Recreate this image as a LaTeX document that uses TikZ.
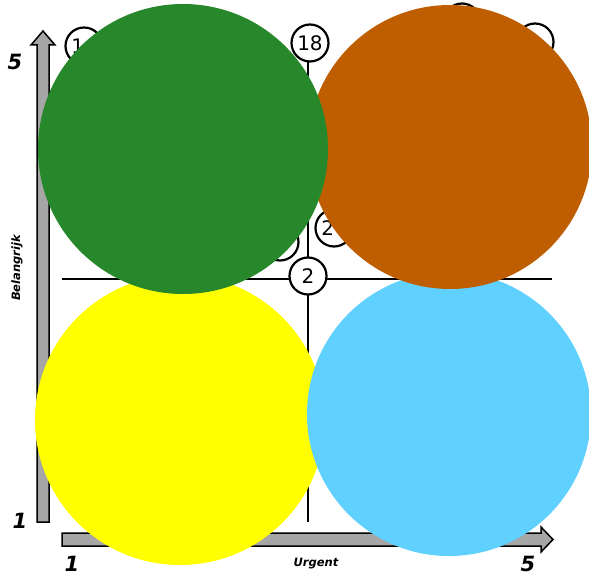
\documentclass[tikz,border=0pt]{standalone}
\usepackage{fontspec}
\setmainfont{DejaVu Sans}
\begin{document}
\begin{tikzpicture}[x=1pt,y=-1pt,
  axisarrow/.style={draw=black,line width=1.5pt,fill={rgb,255:red,166;green,166;blue,166},line join=miter},
  gridline/.style={draw=black,line width=1.7pt},
  axnum/.style={font=\fontsize{21}{21}\selectfont\bfseries\itshape,inner sep=0pt},
  axlabel/.style={font=\fontsize{11.5}{11.5}\selectfont\bfseries\itshape,inner sep=0pt},
  tag/.style={circle,draw=black,line width=2.2pt,fill=white,minimum size=37pt,inner sep=0pt,font=\fontsize{20}{20}\selectfont},
  big/.style={circle,inner sep=0pt,draw=none}]
\definecolor{cgreen}{RGB}{39,136,43}
\definecolor{corange}{RGB}{191,94,0}
\definecolor{cyellow}{RGB}{255,255,0}
\definecolor{cblue}{RGB}{96,208,255}
\useasboundingbox (0,0) rectangle (589,577);
% axes
\draw[axisarrow] (37,522) -- (37,45) -- (31,45) -- (43,31) -- (55,45) -- (49,45) -- (49,522) -- cycle;
\draw[axisarrow] (62,533) -- (541,533) -- (541,527) -- (553,539.5) -- (541,552) -- (541,546) -- (62,546) -- cycle;
% axis labels
\node[axnum] (y5) at (15,62) {5};
\node[axnum] (y1) at (20,521) {1};
\node[axnum] (x1) at (72,564) {1};
\node[axnum] (x5) at (528,564) {5};
\node[axlabel] (xl) at (316,564) {Urgent};
\node[axlabel,rotate=90] (yl) at (17,268) {Belangrijk};
% grid
\coordinate (hl) at (62,279);
\coordinate (hr) at (552,279);
\coordinate (vb) at (308,522);
\coordinate (vt) at (308,45);
\draw[gridline] (hl) -- (hr);
\draw[gridline] (vt) -- (vb);
% small tags
\node[tag] (t1) at (84,46) {1\phantom{0}};
\node[tag] (t18) at (310,43) {18};
\node[tag] (ttop) at (462,22) {};
\node[tag] (ttr) at (535,42) {};
\node[tag] (tmidl) at (280,242) {};
\node[tag] (tmidr) at (334,228) {2\phantom{0}};
\node[tag] (t2) at (308,276) {2};
% big circles
\node[big,fill=cyellow,minimum size=290pt] (cy) at (180,420) {};
\node[big,fill=cblue,minimum size=284pt] (cb) at (449,414) {};
\node[big,fill=corange,minimum size=284pt] (co) at (450,147) {};
\node[big,fill=cgreen,minimum size=290pt] (cg) at (183,149) {};
\end{tikzpicture}
\end{document}
